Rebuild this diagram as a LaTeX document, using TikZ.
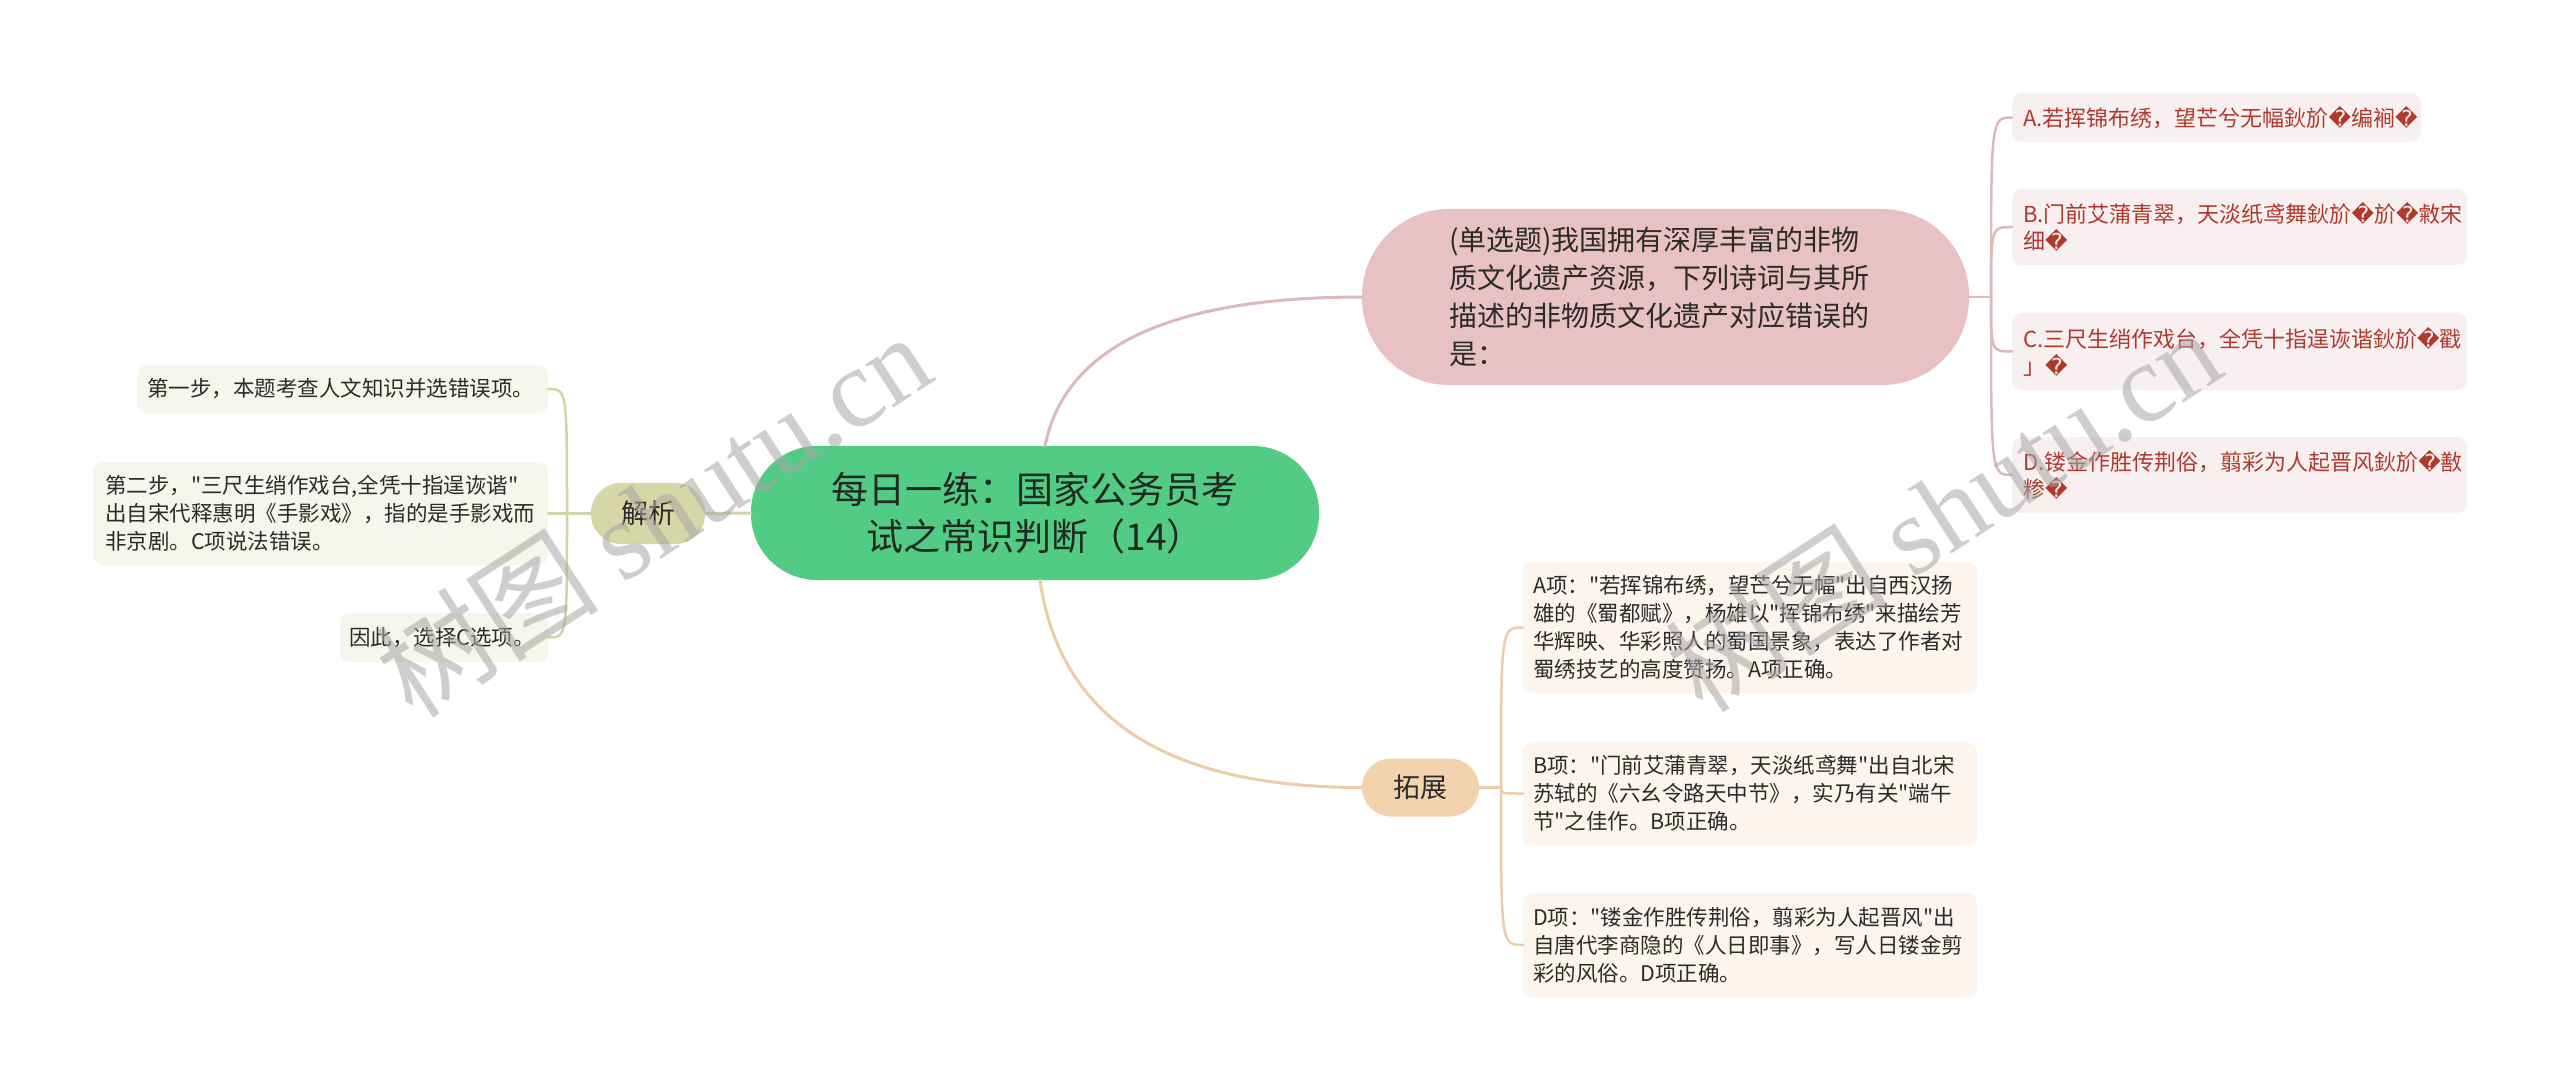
\documentclass[tikz,border=0pt]{standalone}
\usepackage{fontspec}
\setmainfont{Noto Sans CJK SC}[Ligatures=TeXOff]
\newfontfamily\dvsans{DejaVu Sans}
\newfontfamily\wmserif{Liberation Serif}
\newcommand\rpc{{\dvsans\char"FFFD}}
\definecolor{cgreen}{HTML}{52CB84}
\definecolor{ctext}{HTML}{1E2A22}
\definecolor{cpink}{HTML}{E8C2C2}
\definecolor{lpink}{HTML}{DDB9B9}
\definecolor{optfill}{HTML}{F8F0F0}
\definecolor{opttext}{HTML}{B0392B}
\definecolor{colive}{HTML}{D6D6A6}
\definecolor{lolive}{HTML}{D3D4AA}
\definecolor{olivefill}{HTML}{F6F6EC}
\definecolor{cpeach}{HTML}{F2D3AE}
\definecolor{lpeach}{HTML}{ECCDA8}
\definecolor{peachfill}{HTML}{FDF5EC}
\definecolor{darktext}{HTML}{2B2B2B}
\definecolor{wmgray}{HTML}{A6A6A6}
\begin{document}
\begin{tikzpicture}[x=1pt,y=-1pt,
  every node/.style={inner sep=0pt, outer sep=0pt},
  mainnode/.style={fill=cgreen, rounded corners=66pt, minimum width=568pt, minimum height=134pt, align=center, text=ctext, font=\fontsize{37}{47}\selectfont},
  questnode/.style={fill=cpink, rounded corners=87pt, minimum height=176pt, inner xsep=87pt, text width=433pt, align=left, text=darktext, font=\fontsize{28}{38}\selectfont},
  branchnode/.style={rounded corners=29pt, minimum height=60pt, align=center, text=darktext, font=\fontsize{27}{32}\selectfont},
  optbox/.style={fill=optfill, rounded corners=10pt, inner xsep=11pt, align=left, text=opttext, font=\fontsize{22}{27}\selectfont},
  leftbox/.style={fill=olivefill, rounded corners=10pt, align=left, text=darktext, font=\fontsize{21.5}{28}\selectfont},
  extbox/.style={fill=peachfill, rounded corners=10pt, inner xsep=10pt, text width=434pt, align=left, text=darktext, font=\fontsize{21.5}{28}\selectfont},
  thick line/.style={line width=3pt, line cap=round},
  thin line/.style={line width=2.5pt, line cap=round},
  watermark/.style={text=wmgray, text opacity=0.55, rotate=33, font=\fontsize{112}{112}\selectfont}
]
\fill[white] (0,0) rectangle (2560,1091);
\useasboundingbox (0,0) rectangle (2560,1091);

% central node
\node[mainnode] (c) at (1035,513) {每日一练：国家公务员考\\试之常识判断（14）};

% question branch
\node[questnode] (q) at (1665.5,297) {(单选题)我国拥有深厚丰富的非物\\质文化遗产资源，下列诗词与其所\\描述的非物质文化遗产对应错误的\\是：};

\node[optbox, anchor=west, text width=387pt, minimum height=49pt] (o1) at (2012,117.5) {A.若挥锦布绣，望芒兮无幅鈥斺\rpc 编裥\rpc};
\node[optbox, anchor=west, text width=433pt, minimum height=76pt] (o2) at (2012,227) {B.门前艾蒲青翠，天淡纸鸢舞鈥斺\rpc 斺\rpc 敹宋\\细\rpc};
\node[optbox, anchor=west, text width=433pt, minimum height=77pt] (o3) at (2012,351.5) {C.三尺生绡作戏台，全凭十指逞诙谐鈥斺\rpc 戳\\」\rpc};
\node[optbox, anchor=west, text width=433pt, minimum height=76pt] (o4) at (2012,475) {D.镂金作胜传荆俗，翦彩为人起晋风鈥斺\rpc 敾\\糁\rpc};

% analysis branch
\node[branchnode, fill=colive, minimum width=114pt, rounded corners=30pt, minimum height=61pt] (j) at (648,513.5) {解析};

\node[leftbox, anchor=east, inner xsep=10pt, text width=391pt, minimum height=48pt] (l1) at (548,389) {第一步，本题考查人文知识并选错误项。};
\node[leftbox, anchor=east, inner xsep=12pt, text width=431pt, minimum height=103pt] (l2) at (548,513.5) {第二步，"三尺生绡作戏台,全凭十指逞诙谐"\\出自宋代释惠明《手影戏》，指的是手影戏而\\非京剧。C项说法错误。};
\node[leftbox, anchor=east, inner xsep=9pt, text width=190pt, minimum height=49pt] (l3) at (548,637.5) {因此，选择C选项。};

% extension branch
\node[branchnode, fill=cpeach, minimum width=117pt, minimum height=58pt] (t) at (1420.5,787.5) {拓展};

\node[extbox, anchor=west, minimum height=131pt] (t1) at (1523,627.5) {A项："若挥锦布绣，望芒兮无幅"出自西汉扬\\雄的《蜀都赋》，杨雄以"挥锦布绣"来描绘芳\\华辉映、华彩照人的蜀国景象，表达了作者对\\蜀绣技艺的高度赞扬。A项正确。};
\node[extbox, anchor=west, minimum height=103pt] (t2) at (1523,793.5) {B项："门前艾蒲青翠，天淡纸鸢舞"出自北宋\\苏轼的《六幺令路天中节》，实乃有关"端午\\节"之佳作。B项正确。};
\node[extbox, anchor=west, minimum height=104pt] (t3) at (1523,945) {D项："镂金作胜传荆俗，翦彩为人起晋风"出\\自唐代李商隐的《人日即事》，写人日镂金剪\\彩的风俗。D项正确。};

% main connectors
\draw[thick line, lpink] ([xshift=10pt]c.north) .. controls (1065,346) and (1171,297) .. (q.west);
\draw[thick line, lpeach] ([xshift=5pt]c.south) .. controls (1060,719) and (1167,787.5) .. (t.west);
\draw[thick line, lolive] (c.west) -- (j.east);

% option connectors
\coordinate (qh) at (1991,297);
\draw[thin line, lpink] (q.east) -- (qh);
\foreach \n in {o1,o2,o3,o4}
  \draw[thin line, lpink] (qh) .. controls (qh |- \n.west) .. (\n.west);

% extension connectors
\coordinate (th) at (1501,787.5);
\draw[thin line, lpeach] (t.east) -- (th);
\foreach \n in {t1,t2,t3}
  \draw[thin line, lpeach] (th) .. controls (th |- \n.west) .. (\n.west);

% analysis connectors
\coordinate (jh) at (567,513.5);
\draw[thin line, lolive] (j.west) -- (jh);
\foreach \n in {l1,l2,l3}
  \draw[thin line, lolive] (jh) .. controls (jh |- \n.east) .. (\n.east);

% watermarks
\node[watermark] (wm1) at (653,514) {树图 {\wmserif shutu.cn}};
\node[watermark] (wm2) at (1943,509) {树图 {\wmserif shutu.cn}};
\end{tikzpicture}
\end{document}
